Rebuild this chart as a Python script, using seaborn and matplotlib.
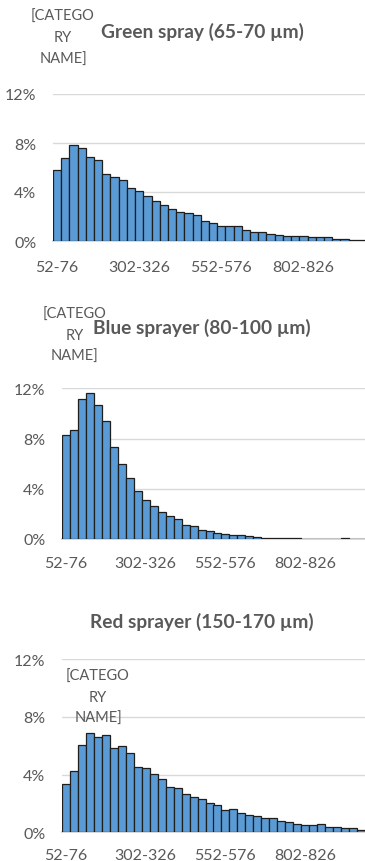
import matplotlib
matplotlib.use("Agg")
import matplotlib.pyplot as plt
import seaborn as sns
import numpy as np

categories = ["52-76", "77-101", "102-126", "127-151", "152-176", "177-201", "202-226",
              "227-251", "252-276", "277-301", "302-326", "327-351", "352-376", "377-401",
              "402-426", "427-451", "452-476", "477-501", "502-526", "527-551", "552-576",
              "577-601", "602-626", "627-651", "652-676", "677-701", "702-726", "727-751",
              "752-776", "777-801", "802-826", "827-851", "852-876", "877-901", "902-926",
              "927-951", "952-976", "977-1001"]

green = [5.81, 6.77, 7.86, 7.62, 6.85, 6.60, 5.45, 5.21, 4.96, 4.33, 4.05, 3.64, 3.26,
         2.96, 2.63, 2.33, 2.30, 2.16, 1.64, 1.45, 1.26, 1.23, 1.21, 0.88, 0.74, 0.74,
         0.55, 0.49, 0.44, 0.44, 0.38, 0.36, 0.30, 0.30, 0.19, 0.14, 0.11, 0.11]
blue = [8.26, 8.69, 11.13, 11.60, 10.68, 9.38, 7.31, 5.99, 4.87, 3.79, 3.13, 2.65, 2.12,
        1.80, 1.56, 1.14, 1.03, 0.72, 0.61, 0.48, 0.37, 0.32, 0.34, 0.21, 0.16, 0.11,
        0.08, 0.08, 0.05, 0.05, 0.03, 0.03, 0.02, 0.02, 0.01, 0.04, 0.02, 0.02]
red = [3.34, 4.27, 6.05, 6.87, 6.62, 6.73, 5.83, 5.97, 5.48, 4.54, 4.42, 4.03, 3.72,
       3.17, 3.06, 2.65, 2.44, 2.30, 2.02, 1.86, 1.54, 1.59, 1.37, 1.22, 1.15, 1.01,
       1.01, 0.80, 0.74, 0.60, 0.53, 0.51, 0.57, 0.37, 0.39, 0.33, 0.29, 0.19]

titles = ["Green spray (65-70 \u00b5m)", "Blue sprayer (80-100 \u00b5m)", "Red sprayer (150-170 \u00b5m)"]
yticks = [0, 4, 8, 12]
ytick_labels = ["0%", "4%", "8%", "12%"]
xtick_idx = [0, 10, 20, 30]

sns.set_theme(style="white")
plt.rcParams["font.family"] = ["Lato", "DejaVu Sans"]

W, H = 365, 862
fig = plt.figure(figsize=(W / 100, H / 100), dpi=100)

GRAY = "#595959"
BAR = "#5B9BD5"

# pixel boxes: left, right, top(12%), bottom(0%)
boxes = [(53, 365, 95, 242), (62, 365, 389.3, 540), (62, 365, 660, 833.3)]
xpads = [14, 12.5, 11.5]
title_y = [32, 328, 622]
label_pos = [(63, [17, 38, 60]), (75, [315, 336, 357]), (98, [677, 698, 719])]

for i, vals in enumerate([green, blue, red]):
    l, r, t, b = boxes[i]
    ax = fig.add_axes([l / W, 1 - b / H, (r - l) / W, (b - t) / H])
    sns.barplot(x=categories, y=vals, ax=ax, color=BAR, saturation=1, width=1.0,
                edgecolor="#1e1e1e", linewidth=0.9, zorder=3)
    ax.set_ylim(0, 12)
    ax.set_xlim(-0.5, len(categories) - 0.5)
    ax.set_yticks(yticks)
    ax.set_yticklabels(ytick_labels)
    ax.set_xticks(xtick_idx)
    ax.set_xticklabels([categories[k] for k in xtick_idx])
    ax.tick_params(axis="both", length=0, labelsize=11.5, labelcolor=GRAY)
    ax.tick_params(axis="x", pad=xpads[i])
    ax.tick_params(axis="y", pad=12)
    ax.set_xlabel("")
    ax.set_ylabel("")
    for s in ["top", "right", "left"]:
        ax.spines[s].set_visible(False)
    ax.spines["bottom"].set_color("#D9D9D9")
    ax.spines["bottom"].set_linewidth(1.5)
    ax.spines["bottom"].set_zorder(1)
    ax.yaxis.grid(True, color="#D9D9D9", linewidth=1.0, zorder=0)
    ax.set_axisbelow(True)
    ax.patch.set_alpha(0)

    fig.text(202 / W, 1 - title_y[i] / H, titles[i], ha="center", va="center",
             fontsize=13.8, fontweight="bold", color=GRAY)
    cx, ys = label_pos[i]
    for txt, yy in zip(["[CATEGO", "RY", "NAME]"], ys):
        fig.text(cx / W, 1 - yy / H, txt, ha="center", va="center", fontsize=10.5, color=GRAY)

fig.savefig("out.png", dpi=100)
